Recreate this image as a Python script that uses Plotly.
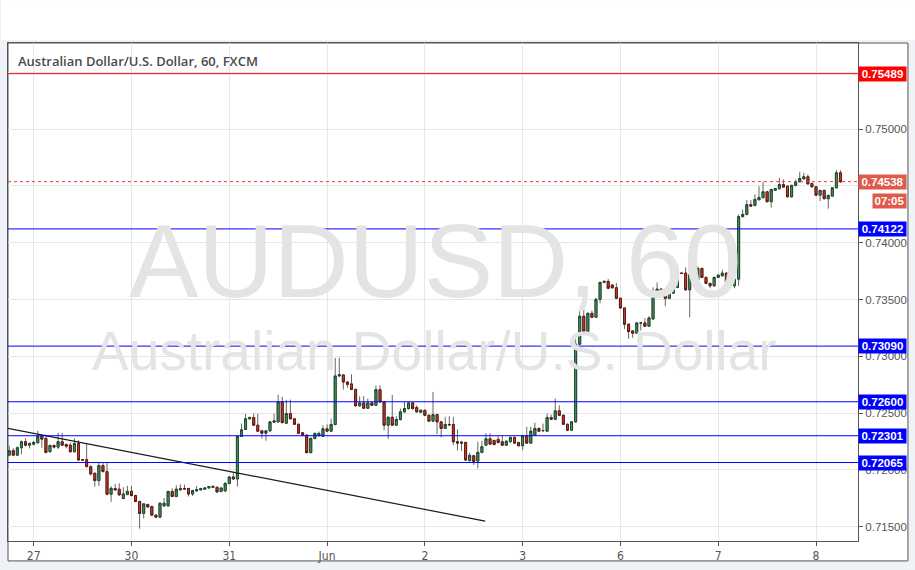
import numpy as np
import plotly.graph_objects as go

# ---------------- data (AUD/USD, 60 min candles) ----------------
opens = [0.72130,0.72169,0.72130,0.72195,0.72248,0.72218,0.72227,0.72239,0.72297,0.72277,
0.72160,0.72215,0.72201,0.72248,0.72224,0.72218,0.72160,0.72233,0.72090,0.72090,
0.72029,0.71970,0.71906,0.72038,0.71985,0.71786,0.71836,0.71830,0.71748,0.71783,
0.71812,0.71774,0.71722,0.71617,0.71695,0.71678,0.71602,0.71584,0.71683,0.71683,
0.71810,0.71766,0.71824,0.71836,0.71836,0.71788,0.71815,0.71824,0.71830,0.71841,
0.71845,0.71847,0.71810,0.71815,0.71880,0.71938,0.71920,0.72294,0.72356,0.72450,
0.72461,0.72394,0.72344,0.72323,0.72344,0.72420,0.72423,0.72599,0.72411,0.72496,
0.72450,0.72402,0.72327,0.72306,0.72152,0.72277,0.72303,0.72297,0.72362,0.72341,
0.72400,0.72827,0.72836,0.72774,0.72757,0.72709,0.72564,0.72590,0.72543,0.72590,
0.72569,0.72707,0.72599,0.72394,0.72464,0.72394,0.72444,0.72511,0.72540,0.72590,
0.72549,0.72508,0.72525,0.72481,0.72429,0.72487,0.72423,0.72365,0.72400,0.72400,
0.72248,0.72245,0.72242,0.72081,0.72125,0.72078,0.72154,0.72218,0.72274,0.72259,
0.72268,0.72248,0.72218,0.72248,0.72286,0.72242,0.72213,0.72301,0.72236,0.72306,
0.72365,0.72344,0.72341,0.72461,0.72446,0.72520,0.72481,0.72402,0.72350,0.72423,
0.73107,0.73353,0.73221,0.73379,0.73344,0.73502,0.73651,0.73660,0.73628,0.73604,
0.73511,0.73426,0.73283,0.73224,0.73204,0.73292,0.73294,0.73265,0.73329,0.73555,
0.73592,0.73549,0.73511,0.73557,0.73607,0.73733,0.73733,0.73586,0.73718,0.73674,
0.73774,0.73695,0.73642,0.73621,0.73695,0.73709,0.73733,0.73651,0.73621,0.73680,
0.74230,0.74250,0.74335,0.74329,0.74379,0.74397,0.74449,0.74362,0.74463,0.74476,
0.74513,0.74498,0.74405,0.74505,0.74537,0.74563,0.74581,0.74522,0.74493,0.74419,
0.74461,0.74388,0.74411,0.74484,0.74616]

highs = [0.72213,0.72192,0.72207,0.72259,0.72277,0.72242,0.72255,0.72344,0.72312,0.72312,
0.72224,0.72224,0.72327,0.72327,0.72233,0.72239,0.72277,0.72262,0.72097,0.72227,
0.72040,0.71979,0.72066,0.72064,0.72064,0.71856,0.71876,0.71882,0.71847,0.71859,
0.71859,0.71781,0.71729,0.71707,0.71703,0.71685,0.71606,0.71711,0.71753,0.71817,
0.71838,0.71865,0.71874,0.71871,0.71843,0.71825,0.71859,0.71843,0.71847,0.71859,
0.71860,0.71853,0.71847,0.71891,0.71944,0.71985,0.72303,0.72408,0.72494,0.72470,
0.72496,0.72494,0.72351,0.72351,0.72430,0.72496,0.72663,0.72643,0.72616,0.72619,
0.72457,0.72408,0.72334,0.72312,0.72286,0.72330,0.72338,0.72391,0.72400,0.72450,
0.72985,0.72987,0.72843,0.72781,0.72841,0.72715,0.72648,0.72651,0.72628,0.72597,
0.72744,0.72744,0.72606,0.72470,0.72660,0.72473,0.72540,0.72599,0.72597,0.72597,
0.72569,0.72531,0.72531,0.72487,0.72687,0.72496,0.72430,0.72467,0.72473,0.72467,
0.72356,0.72251,0.72246,0.72152,0.72132,0.72248,0.72257,0.72323,0.72323,0.72268,
0.72297,0.72306,0.72259,0.72294,0.72294,0.72246,0.72308,0.72380,0.72380,0.72415,
0.72373,0.72408,0.72496,0.72487,0.72628,0.72569,0.72487,0.72408,0.72430,0.73183,
0.73397,0.73511,0.73386,0.73402,0.73514,0.73658,0.73667,0.73680,0.73636,0.73645,
0.73518,0.73430,0.73290,0.73228,0.73299,0.73300,0.73335,0.73353,0.73607,0.73651,
0.73599,0.73555,0.73578,0.73704,0.73783,0.73737,0.73783,0.73724,0.73792,0.73792,
0.73781,0.73702,0.73649,0.73702,0.73724,0.73762,0.73739,0.73709,0.73686,0.74250,
0.74294,0.74376,0.74376,0.74426,0.74498,0.74537,0.74456,0.74476,0.74484,0.74572,
0.74557,0.74505,0.74511,0.74557,0.74625,0.74616,0.74601,0.74528,0.74500,0.74467,
0.74467,0.74423,0.74491,0.74639,0.74639]

lows = [0.72119,0.72128,0.72128,0.72139,0.72207,0.72189,0.72215,0.72233,0.72195,0.72145,
0.72154,0.72189,0.72183,0.72211,0.72189,0.72154,0.72154,0.72084,0.72084,0.72023,
0.71952,0.71853,0.71859,0.71979,0.71777,0.71718,0.71817,0.71773,0.71742,0.71777,
0.71768,0.71716,0.71482,0.71573,0.71667,0.71593,0.71575,0.71575,0.71676,0.71676,
0.71760,0.71760,0.71817,0.71825,0.71766,0.71771,0.71808,0.71821,0.71825,0.71838,
0.71840,0.71799,0.71803,0.71808,0.71874,0.71913,0.71853,0.72290,0.72351,0.72444,
0.72387,0.72334,0.72277,0.72257,0.72338,0.72413,0.72417,0.72408,0.72404,0.72444,
0.72395,0.72316,0.72299,0.72145,0.72145,0.72268,0.72290,0.72290,0.72334,0.72334,
0.72391,0.72821,0.72707,0.72722,0.72702,0.72558,0.72558,0.72536,0.72536,0.72562,
0.72562,0.72593,0.72350,0.72274,0.72387,0.72387,0.72435,0.72505,0.72531,0.72531,
0.72505,0.72501,0.72474,0.72422,0.72422,0.72315,0.72286,0.72360,0.72391,0.72218,
0.72172,0.72166,0.72080,0.72075,0.72043,0.72014,0.72145,0.72211,0.72220,0.72215,
0.72233,0.72211,0.72211,0.72242,0.72229,0.72207,0.72174,0.72229,0.72229,0.72299,
0.72334,0.72338,0.72334,0.72439,0.72439,0.72474,0.72395,0.72341,0.72343,0.72417,
0.73101,0.73215,0.73215,0.73338,0.73338,0.73467,0.73645,0.73592,0.73597,0.73505,
0.73417,0.73242,0.73154,0.73163,0.73198,0.73227,0.73259,0.73259,0.73323,0.73549,
0.73535,0.73441,0.73505,0.73549,0.73601,0.73724,0.73579,0.73344,0.73667,0.73667,
0.73689,0.73636,0.73599,0.73614,0.73689,0.73702,0.73641,0.73599,0.73599,0.73621,
0.74224,0.74241,0.74316,0.74320,0.74373,0.74391,0.74355,0.74309,0.74456,0.74469,
0.74483,0.74399,0.74399,0.74496,0.74531,0.74557,0.74513,0.74487,0.74412,0.74367,
0.74382,0.74300,0.74404,0.74478,0.74526]

closes = [0.72169,0.72130,0.72195,0.72248,0.72218,0.72233,0.72242,0.72297,0.72271,0.72154,
0.72215,0.72201,0.72248,0.72218,0.72209,0.72160,0.72233,0.72087,0.72087,0.72029,
0.71964,0.71906,0.72038,0.71985,0.71786,0.71838,0.71824,0.71780,0.71788,0.71812,
0.71774,0.71722,0.71617,0.71701,0.71674,0.71602,0.71584,0.71707,0.71707,0.71810,
0.71766,0.71830,0.71836,0.71832,0.71788,0.71818,0.71827,0.71836,0.71841,0.71853,
0.71856,0.71806,0.71841,0.71882,0.71938,0.71920,0.72294,0.72353,0.72450,0.72461,
0.72394,0.72341,0.72323,0.72344,0.72423,0.72432,0.72599,0.72417,0.72496,0.72450,
0.72402,0.72323,0.72306,0.72152,0.72277,0.72321,0.72321,0.72362,0.72341,0.72400,
0.72827,0.72838,0.72774,0.72753,0.72709,0.72564,0.72590,0.72543,0.72590,0.72569,
0.72707,0.72599,0.72394,0.72464,0.72394,0.72444,0.72511,0.72540,0.72590,0.72540,
0.72511,0.72525,0.72481,0.72429,0.72487,0.72423,0.72365,0.72400,0.72397,0.72248,
0.72236,0.72236,0.72087,0.72128,0.72075,0.72154,0.72204,0.72274,0.72227,0.72224,
0.72242,0.72218,0.72253,0.72286,0.72236,0.72213,0.72301,0.72236,0.72341,0.72365,
0.72341,0.72347,0.72461,0.72446,0.72520,0.72481,0.72402,0.72350,0.72423,0.73107,
0.73353,0.73221,0.73379,0.73344,0.73502,0.73651,0.73660,0.73599,0.73604,0.73511,
0.73426,0.73283,0.73218,0.73204,0.73294,0.73294,0.73265,0.73338,0.73557,0.73592,
0.73542,0.73511,0.73557,0.73607,0.73733,0.73730,0.73586,0.73718,0.73674,0.73774,
0.73695,0.73642,0.73621,0.73695,0.73715,0.73733,0.73648,0.73621,0.73680,0.74230,
0.74250,0.74335,0.74323,0.74382,0.74399,0.74449,0.74362,0.74469,0.74478,0.74513,
0.74490,0.74405,0.74505,0.74537,0.74566,0.74581,0.74519,0.74493,0.74419,0.74461,
0.74388,0.74417,0.74484,0.74616,0.74538]

# day labels on the time axis (bar index of each session start)
day_ticks = [6, 30, 54, 78, 102, 126, 150, 174, 198]
day_labels = ["27", "30", "31", "Jun", "2", "3", "6", "7", "8"]

# price-axis ticks (labels hidden where the reference covers them with price boxes)
price_ticks = [0.715, 0.720, 0.725, 0.730, 0.735, 0.740, 0.745, 0.750, 0.755]
price_tick_text = ["0.71500", "0.72000", "0.72500", "0.73000", "0.73500", "0.74000", "", "0.75000", ""]

# horizontal levels drawn on the chart
red_level = 0.75489
last_price = 0.74538
blue_levels = [0.74122, 0.73090, 0.72600, 0.72301, 0.72065]
countdown = "07:05"

# trend line (bar index, price)
trend_x = [-0.3, 116.8]
trend_y = [0.72365, 0.71549]

# ---------------- figure ----------------
x = np.arange(len(opens))
o = np.array(opens); c = np.array(closes)
body_hi = np.maximum(o, c); body_lo = np.minimum(o, c)

GREEN_FILL = "#4a9466"; GREEN_LINE = "#1d4a2c"
RED_FILL = "#cc3d2c"; RED_LINE = "#5e1a10"
WICK = "#666666"

fig = go.Figure()
# wicks
fig.add_trace(go.Candlestick(
    x=x, open=opens, high=highs, low=lows, close=closes,
    increasing=dict(line=dict(color=WICK, width=1), fillcolor=WICK),
    decreasing=dict(line=dict(color=WICK, width=1), fillcolor=WICK),
    whiskerwidth=0, hoverinfo="skip", showlegend=False))
# bodies
fig.add_trace(go.Candlestick(
    x=x, open=opens, high=body_hi, low=body_lo, close=closes,
    increasing=dict(line=dict(color=GREEN_LINE, width=1), fillcolor=GREEN_FILL),
    decreasing=dict(line=dict(color=RED_LINE, width=1), fillcolor=RED_FILL),
    whiskerwidth=0, showlegend=False))
# trend line
fig.add_trace(go.Scatter(x=trend_x, y=trend_y, mode="lines",
                         line=dict(color="#1a1a1a", width=1.2),
                         hoverinfo="skip", showlegend=False))

shapes = []
# white header band above the widget
shapes.append(dict(type="rect", xref="paper", yref="paper",
                   x0=-7 / 851, x1=908 / 851, y0=1 + 3 / 500, y1=1 + 43 / 500,
                   line=dict(width=0), fillcolor="white", layer="below"))
# widget frame
shapes.append(dict(type="rect", xref="paper", yref="paper",
                   x0=0, x1=(908 - 7) / 851, y0=-20 / 500, y1=1,
                   line=dict(color="#555555", width=1), fillcolor="white", layer="below"))
shapes.append(dict(type="line", xref="paper", yref="y", x0=0, x1=1,
                   y0=red_level, y1=red_level, line=dict(color="#ff0000", width=1)))
shapes.append(dict(type="line", xref="paper", yref="y", x0=0, x1=1,
                   y0=last_price, y1=last_price, line=dict(color="#e8412e", width=1, dash="dot")))
for lv in blue_levels:
    shapes.append(dict(type="line", xref="paper", yref="y", x0=0, x1=1,
                       y0=lv, y1=lv, line=dict(color="#0000ff", width=1)))

ann = []
LBL_FONT = "Liberation Sans, Arial, sans-serif"
def price_box(val, color):
    return dict(xref="paper", yref="y", x=1, y=val, xanchor="left", yanchor="middle",
                text=f"<b>{val:.5f}</b>", showarrow=False, bgcolor=color,
                font=dict(family=LBL_FONT, size=11.5, color="white"),
                width=45, borderpad=1, align="center")
ann.append(price_box(red_level, "#ff0000"))
ann.append(price_box(last_price, "#e05a4b"))
for lv in blue_levels:
    ann.append(price_box(lv, "#0000ff"))
ann.append(dict(xref="paper", yref="y", x=1, y=0.74370, xanchor="left", yanchor="middle",
                xshift=14, text=f"<b>{countdown}</b>", showarrow=False, bgcolor="#e05a4b",
                font=dict(family=LBL_FONT, size=11.5, color="white"),
                width=31, borderpad=1, align="center"))
# watermark
ann.append(dict(xref="paper", yref="paper", x=(435 - 7) / 851, y=(543 - 262) / 500,
                text="AUDUSD, 60", showarrow=False, xanchor="center", yanchor="middle",
                font=dict(family=LBL_FONT, size=104, color="#e4e4e4")))
ann.append(dict(xref="paper", yref="paper", x=(434 - 7) / 851, y=(543 - 352) / 500,
                text="Australian Dollar/U.S. Dollar", showarrow=False,
                xanchor="center", yanchor="middle",
                font=dict(family=LBL_FONT, size=55, color="#e4e4e4")))
# legend title
ann.append(dict(xref="paper", yref="paper", x=(15 - 7) / 851, y=(543 - 61) / 500,
                text="Australian Dollar/U.S. Dollar, 60, FXCM", showarrow=False,
                xanchor="left", yanchor="middle",
                font=dict(family="Open Sans, sans-serif", size=13, color="#4a4a4a", weight=600)))

fig.update_layout(
    width=915, height=570,
    margin=dict(l=7, r=57, t=43, b=27),
    paper_bgcolor="#eff2f6", plot_bgcolor="white",
    shapes=shapes, annotations=ann, showlegend=False,
    xaxis=dict(range=[-0.3, 208.3], tickmode="array", tickvals=day_ticks, ticktext=day_labels,
               showgrid=True, gridcolor="#e6e6e6", gridwidth=1, zeroline=False,
               showline=True, linecolor="#555555", linewidth=1, mirror=True,
               ticks="outside", ticklen=4, tickcolor="#555555",
               tickfont=dict(family="Liberation Sans Narrow, DejaVu Sans Condensed, Arial", size=12, color="#555555"),
               rangeslider=dict(visible=False), fixedrange=True),
    yaxis=dict(side="right", range=[0.71374, 0.75759], tickmode="array",
               tickvals=price_ticks, ticktext=price_tick_text,
               showgrid=True, gridcolor="#e6e6e6", zeroline=False,
               showline=True, linecolor="#555555", linewidth=1, mirror=True,
               ticks="outside", ticklen=4, tickcolor="#555555",
               tickfont=dict(family=LBL_FONT, size=11.5, color="#555555"), fixedrange=True),
)

fig.write_html("out.html", config={"displayModeBar": False},
               post_script="document.body.style.margin='0';")
